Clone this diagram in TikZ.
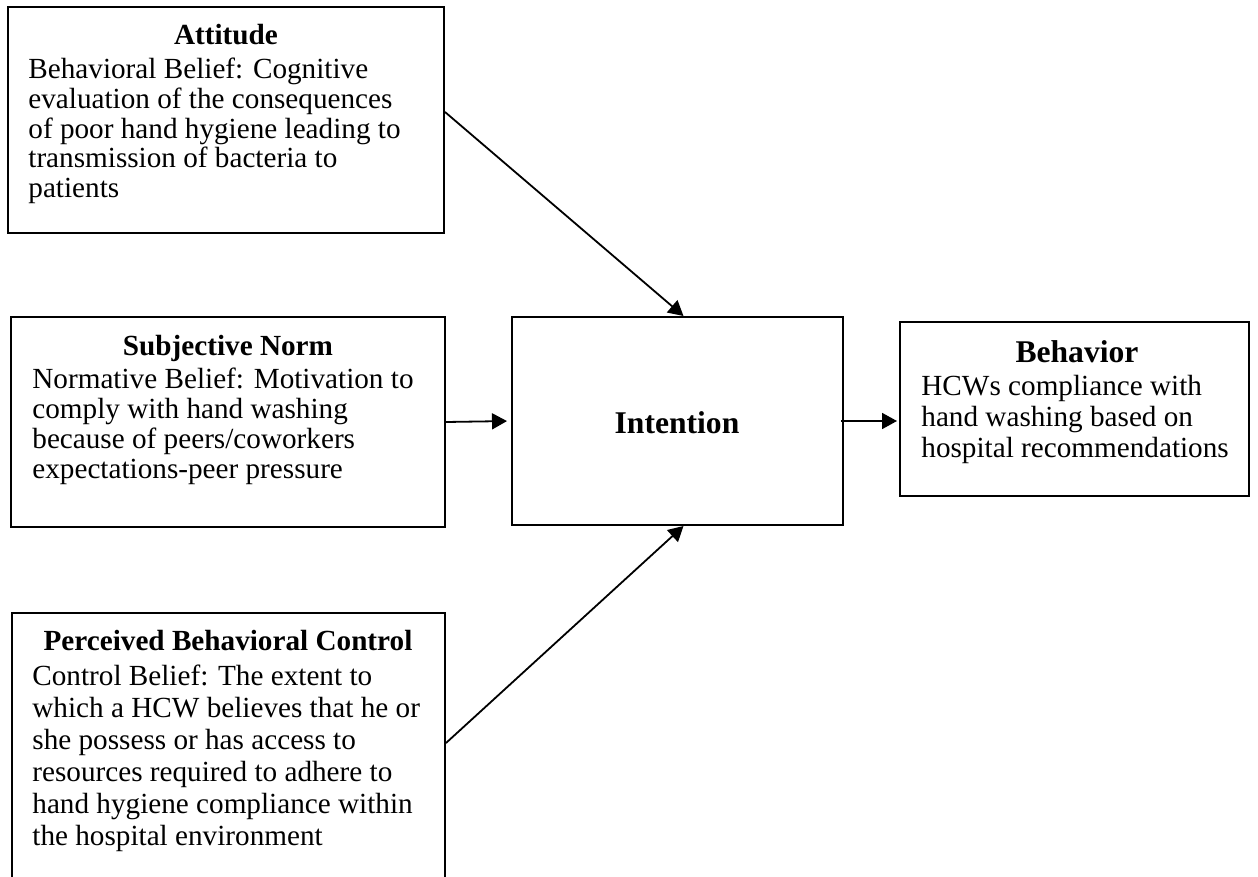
\documentclass[tikz,border=0pt]{standalone}
\usepackage{fontspec}
\setmainfont{Liberation Serif}
\usetikzlibrary{arrows.meta,positioning}

\tikzset{
  box/.style={draw, line width=1pt, inner sep=0pt},
  ttl/.style={font=\fontsize{14.6pt}{16pt}\selectfont\bfseries, inner sep=0pt, anchor=base},
  bigttl/.style={font=\fontsize{15.8pt}{17pt}\selectfont\bfseries, inner sep=0pt, anchor=base},
  body/.style={font=\fontsize{14.6pt}{#1}\selectfont, align=left, inner sep=0pt, anchor=north west},
  body/.default=15pt,
  arr/.style={-{Triangle[length=7.5pt,width=8pt]}, line width=0.9pt}
}

\begin{document}
\begin{tikzpicture}[x=0.5pt,y=-0.5pt]
  \useasboundingbox (0,0) rectangle (1258,877);
  \clip (0,0) rectangle (1258,877);

  % ---- left column: the three belief boxes ----
  \node[box, minimum width=218pt, minimum height=113pt] (att) at (226,120) {};
  \node[ttl] (attT) at (226,45) {Attitude};
  \node[body=14.8pt] (attB) at (28,58) {Behavioral Belief: Cognitive\\
    evaluation of the consequences\\
    of poor hand hygiene leading to\\
    transmission of bacteria to\\
    patients};

  \node[box, minimum width=217pt, minimum height=105pt] (sn) at (228,422) {};
  \node[ttl] (snT) at (228,355) {Subjective Norm};
  \node[body] (snB) at (32,368) {Normative Belief: Motivation to\\
    comply with hand washing\\
    because of peers/coworkers\\
    expectations-peer pressure};

  % the lower box runs off the bottom of the page
  \node[box, minimum width=216.5pt, minimum height=150pt] (pbc) at (228.5,763) {};
  \node[ttl] (pbcT) at (228,650) {Perceived Behavioral Control};
  \node[body=16pt] (pbcB) at (32,665) {Control Belief: The extent to\\
    which a HCW believes that he or\\
    she possess or has access to\\
    resources required to adhere to\\
    hand hygiene compliance within\\
    the hospital environment};

  % ---- middle and right ----
  \node[box, minimum width=165.5pt, minimum height=104pt] (int) at (677.5,421) {};
  \node[bigttl] (intT) at (677,433) {Intention};

  \node[box, minimum width=174.5pt, minimum height=87pt] (beh) at (1074.5,409) {};
  \node[bigttl] (behT) at (1077,362) {Behavior};
  \node[body=15.5pt] (behB) at (921,375) {HCWs compliance with\\
    hand washing based on\\
    hospital recommendations};

  % ---- arrows ----
  \draw[arr] ([yshift=4pt]att.east) -- ([xshift=3pt]int.north);
  \draw[arr, shorten >=2pt] (sn.east) -- (int.west);
  \draw[arr, shorten <=-1.5pt, shorten >=1pt] (int.east) -- (beh.west |- int.east);
  \draw[arr] ([yshift=10pt]pbc.east) -- ([xshift=3pt]int.south);
\end{tikzpicture}
\end{document}
